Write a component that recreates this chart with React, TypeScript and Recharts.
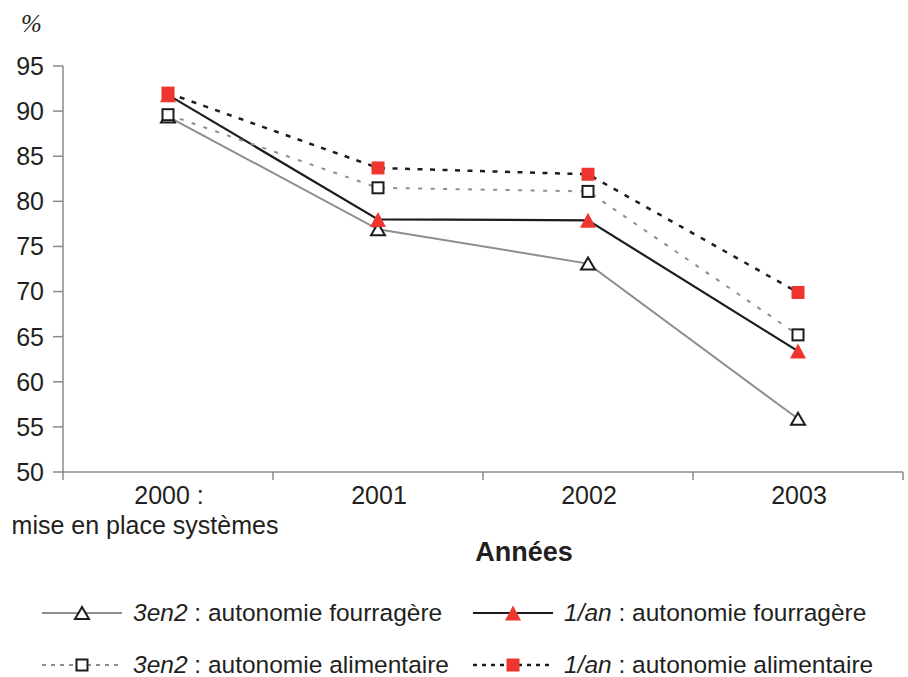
import React from 'react';
import { LineChart, Line, XAxis, YAxis } from 'recharts';

const categories = ['2000 :\nmise en place systèmes', '2001', '2002', '2003'];
const fourragere3en2 = [89.4, 76.9, 73.1, 55.9];
const fourragere1an = [91.8, 78.0, 77.9, 63.4];
const alimentaire3en2 = [89.6, 81.5, 81.1, 65.2];
const alimentaire1an = [92.0, 83.7, 83.0, 69.9];
const yTicks = [50, 55, 60, 65, 70, 75, 80, 85, 90, 95];
const xTicks = [0, 0.5, 1, 1.5, 2, 2.5, 3, 3.5, 4];

const data = categories.map((c, i) => ({
  x: i + 0.5,
  f3: fourragere3en2[i],
  f1: fourragere1an[i],
  a3: alimentaire3en2[i],
  a1: alimentaire1an[i],
}));

const RED = '#ee3530';
const GRAY = '#8e8e8e';
const BLACK = '#1c1c1c';
const TEXT = '#231f20';
const AXIS = '#8a8a8a';
const FONT = '"Liberation Sans", Arial, sans-serif';

type Kind = 'openTri' | 'redTri' | 'openSq' | 'redSq';

function Marker({ kind, cx, cy }: { kind: Kind; cx: number; cy: number }) {
  if (kind === 'openTri') {
    const w = 14, h = 12;
    return (
      <polygon
        points={`${cx},${cy - h / 2} ${cx - w / 2},${cy + h / 2} ${cx + w / 2},${cy + h / 2}`}
        fill="#fff"
        stroke={BLACK}
        strokeWidth={2}
        strokeLinejoin="miter"
      />
    );
  }
  if (kind === 'redTri') {
    const w = 16, h = 15;
    return (
      <polygon
        points={`${cx},${cy - h / 2} ${cx - w / 2},${cy + h / 2} ${cx + w / 2},${cy + h / 2}`}
        fill={RED}
        stroke="none"
      />
    );
  }
  if (kind === 'openSq') {
    const s = 11;
    return <rect x={cx - s / 2} y={cy - s / 2} width={s} height={s} fill="#fff" stroke={BLACK} strokeWidth={2} />;
  }
  const s = 13;
  return <rect x={cx - s / 2} y={cy - s / 2} width={s} height={s} fill={RED} stroke="none" />;
}

const makeDot = (kind: Kind) => (props: any) => {
  const { cx, cy, index } = props;
  if (cx == null || cy == null) return <g key={`d-${kind}-${index}`} />;
  return (
    <g key={`d-${kind}-${index}`}>
      <Marker kind={kind} cx={cx} cy={cy} />
    </g>
  );
};

function XTick(props: any) {
  const { x, y, payload } = props;
  const v = payload.value as number;
  if (Number.isInteger(v)) {
    return <line x1={x} y1={y} x2={x} y2={y + 8} stroke={AXIS} strokeWidth={1.5} />;
  }
  const lines = categories[Math.floor(v)].split('\n');
  return (
    <g>
      {lines.map((l, i) => (
        <text
          key={i}
          x={x + (i > 0 ? -23 : 1)}
          y={y + 32 + i * 30}
          textAnchor="middle"
          fontSize={25}
          fill={TEXT}
          fontFamily={FONT}
        >
          {l}
        </text>
      ))}
    </g>
  );
}

const legendItems: { italic: string; rest: string; kind: Kind; color: string; width: number; dash?: string }[] = [
  { italic: '3en2', rest: ' : autonomie fourragère', kind: 'openTri', color: GRAY, width: 2 },
  { italic: '1/an', rest: ' : autonomie fourragère', kind: 'redTri', color: BLACK, width: 2 },
  { italic: '3en2', rest: ' : autonomie alimentaire', kind: 'openSq', color: GRAY, width: 2, dash: '4 5' },
  { italic: '1/an', rest: ' : autonomie alimentaire', kind: 'redSq', color: BLACK, width: 2.5, dash: '4 5' },
];

function CustomLegend() {
  const pos = [
    { left: 42, top: 613 },
    { left: 473, top: 613 },
    { left: 42, top: 665 },
    { left: 473, top: 665 },
  ];
  return (
    <>
      {legendItems.map((it, i) => (
        <div
          key={i}
          style={{
            position: 'absolute',
            left: pos[i].left,
            top: pos[i].top - 14,
            height: 28,
            display: 'flex',
            alignItems: 'center',
            fontFamily: FONT,
            fontSize: 24.5,
            color: TEXT,
            whiteSpace: 'nowrap',
          }}
        >
          <svg width={80} height={28} style={{ display: 'block' }}>
            <line x1={0} y1={14} x2={80} y2={14} stroke={it.color} strokeWidth={it.width} strokeDasharray={it.dash} />
            <Marker kind={it.kind} cx={40} cy={14} />
          </svg>
          <span style={{ marginLeft: 11 }}>
            <i>{it.italic}</i>
            {it.rest}
          </span>
        </div>
      ))}
    </>
  );
}

export default function App() {
  return (
    <div style={{ position: 'absolute', left: 0, top: 0, width: 908, height: 677, background: '#fff', overflow: 'hidden' }}>
      <LineChart
        width={908}
        height={677}
        data={data}
        margin={{ top: 66, right: 5, left: 0, bottom: 175 }}
        style={{ fontFamily: FONT }}
      >
        <XAxis
          dataKey="x"
          type="number"
          domain={[0, 4]}
          ticks={xTicks}
          interval={0}
          height={30}
          tickSize={0}
          tickMargin={0}
          tickLine={false}
          axisLine={{ stroke: AXIS, strokeWidth: 1.5 }}
          tick={<XTick />}
          label={{
            content: (p: any) => {
              const vb = p.viewBox;
              return (
                <text
                  x={vb.x + vb.width / 2 + 41}
                  y={561}
                  textAnchor="middle"
                  fontSize={27}
                  fontWeight="bold"
                  fill={TEXT}
                  fontFamily={FONT}
                >
                  Années
                </text>
              );
            },
          }}
        />
        <YAxis
          type="number"
          domain={[50, 95]}
          ticks={yTicks}
          interval={0}
          width={63}
          tickSize={10}
          tickMargin={9}
          axisLine={{ stroke: AXIS, strokeWidth: 1.5 }}
          tickLine={{ stroke: AXIS, strokeWidth: 1.5 }}
          tick={{ fontSize: 25, fill: TEXT, fontFamily: FONT }}
          label={{
            value: '%',
            position: 'top',
            offset: 34,
            fontSize: 25,
            fill: TEXT,
            fontFamily: '"Liberation Serif", "Times New Roman", serif',
            fontStyle: 'italic',
          }}
        />
        <Line
          dataKey="f3"
          stroke={GRAY}
          strokeWidth={2}
          dot={makeDot('openTri')}
          activeDot={false}
          isAnimationActive={false}
        />
        <Line
          dataKey="f1"
          stroke={BLACK}
          strokeWidth={2.2}
          dot={makeDot('redTri')}
          activeDot={false}
          isAnimationActive={false}
        />
        <Line
          dataKey="a3"
          stroke={GRAY}
          strokeWidth={2}
          strokeDasharray="4 8.5"
          dot={makeDot('openSq')}
          activeDot={false}
          isAnimationActive={false}
        />
        <Line
          dataKey="a1"
          stroke={BLACK}
          strokeWidth={2.5}
          strokeDasharray="5 7.5"
          dot={makeDot('redSq')}
          activeDot={false}
          isAnimationActive={false}
        />
      </LineChart>
      <CustomLegend />
    </div>
  );
}
